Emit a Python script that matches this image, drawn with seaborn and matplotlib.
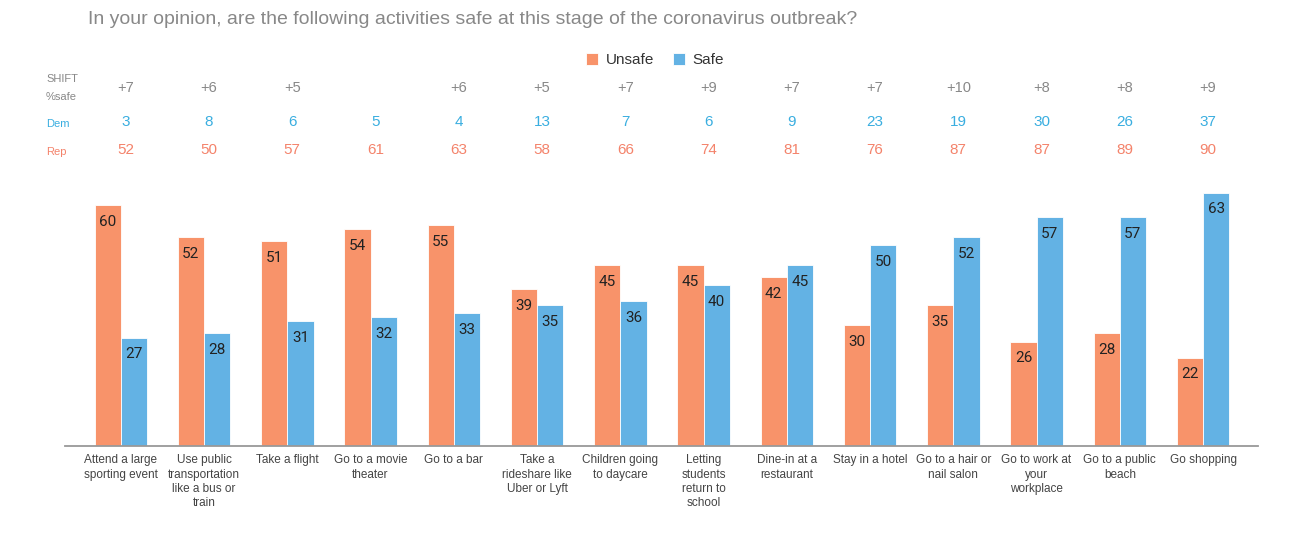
import matplotlib
matplotlib.use("Agg")
import matplotlib.pyplot as plt
import matplotlib.transforms as mtransforms
import seaborn as sns
import pandas as pd

activities = [
    "Attend a large\nsporting event",
    "Use public\ntransportation\nlike a bus or\ntrain",
    "Take a flight",
    "Go to a movie\ntheater",
    "Go to a bar",
    "Take a\nrideshare like\nUber or Lyft",
    "Children going\nto daycare",
    "Letting\nstudents\nreturn to\nschool",
    "Dine-in at a\nrestaurant",
    "Stay in a hotel",
    "Go to a hair or\nnail salon",
    "Go to work at\nyour\nworkplace",
    "Go to a public\nbeach",
    "Go shopping",
]
unsafe = [60, 52, 51, 54, 55, 39, 45, 45, 42, 30, 35, 26, 28, 22]
safe = [27, 28, 31, 32, 33, 35, 36, 40, 45, 50, 52, 57, 57, 63]
shift = ["+7", "+6", "+5", "", "+6", "+5", "+7", "+9", "+7", "+7", "+10", "+8", "+8", "+9"]
dem = [3, 8, 6, 5, 4, 13, 7, 6, 9, 23, 19, 30, 26, 37]
rep = [52, 50, 57, 61, 63, 58, 66, 74, 81, 76, 87, 87, 89, 90]

ORANGE = "#F8936A"
BLUE = "#63B2E4"
DEM_C = "#3AAEE0"
REP_C = "#F4836B"

df = pd.DataFrame({
    "activity": activities * 2,
    "value": unsafe + safe,
    "type": ["Unsafe"] * len(activities) + ["Safe"] * len(activities),
})

sns.set_style("white")
plt.rcParams["font.family"] = ["Liberation Sans", "DejaVu Sans"]

W, H = 1304, 534
fig = plt.figure(figsize=(W / 100, H / 100), dpi=100)
ax = fig.add_axes([65 / W, 1 - 446 / H, (1258 - 65) / W, (446 - 180) / H])

sns.barplot(data=df, x="activity", y="value", hue="type", order=activities,
            hue_order=["Unsafe", "Safe"], palette=[ORANGE, BLUE], saturation=1,
            width=0.63, edgecolor="white", linewidth=0.6, ax=ax, legend=True)

for c in ax.containers:
    ax.bar_label(c, padding=-17, fontsize=11, color="#222222", family="Roboto")

ax.set_ylim(0, 66.2)
ax.set_xlim(-0.67, len(activities) - 1 + 0.66)
ax.set_xlabel("")
ax.set_ylabel("")
ax.set_yticks([])
for s in ["top", "right", "left"]:
    ax.spines[s].set_visible(False)
ax.spines["bottom"].set_color("#999999")
ax.spines["bottom"].set_linewidth(1.3)
ax.tick_params(axis="x", length=0, pad=6, labelsize=8.5, colors="#444444")
for t in ax.get_xticklabels():
    t.set_linespacing(1.25)
    t.set_va("top")

handles, labels = ax.get_legend_handles_labels()
ax.get_legend().remove()
fig.legend(handles, labels, loc="center", bbox_to_anchor=(655 / W, 1 - 60 / H),
           ncol=2, frameon=False, fontsize=11, handlelength=0.8, handleheight=0.8,
           handletextpad=0.5, columnspacing=1.2, labelcolor="#333333")

fig.text(88 / W, 1 - 20 / H,
         "In your opinion, are the following activities safe at this stage of the coronavirus outbreak?",
         fontsize=14, color="#888888", va="center", ha="left")

trans = mtransforms.blended_transform_factory(ax.transData, fig.transFigure)
off = 0.06
for i in range(len(activities)):
    ax.text(i + off, 1 - 88 / H, shift[i], transform=trans, ha="center", va="center",
            fontsize=10.5, color="#888888")
    ax.text(i + off, 1 - 122 / H, str(dem[i]), transform=trans, ha="center", va="center",
            fontsize=11, color=DEM_C)
    ax.text(i + off, 1 - 150 / H, str(rep[i]), transform=trans, ha="center", va="center",
            fontsize=11, color=REP_C)

fig.text(46 / W, 1 - 79 / H, "SHIFT", fontsize=8, color="#888888", va="center", ha="left")
fig.text(46 / W, 1 - 97 / H, "%safe", fontsize=8, color="#888888", va="center", ha="left")
fig.text(46 / W, 1 - 124 / H, "Dem", fontsize=8, color=DEM_C, va="center", ha="left")
fig.text(46 / W, 1 - 152 / H, "Rep", fontsize=8, color=REP_C, va="center", ha="left")

fig.savefig("out.png", dpi=100, facecolor="white")
